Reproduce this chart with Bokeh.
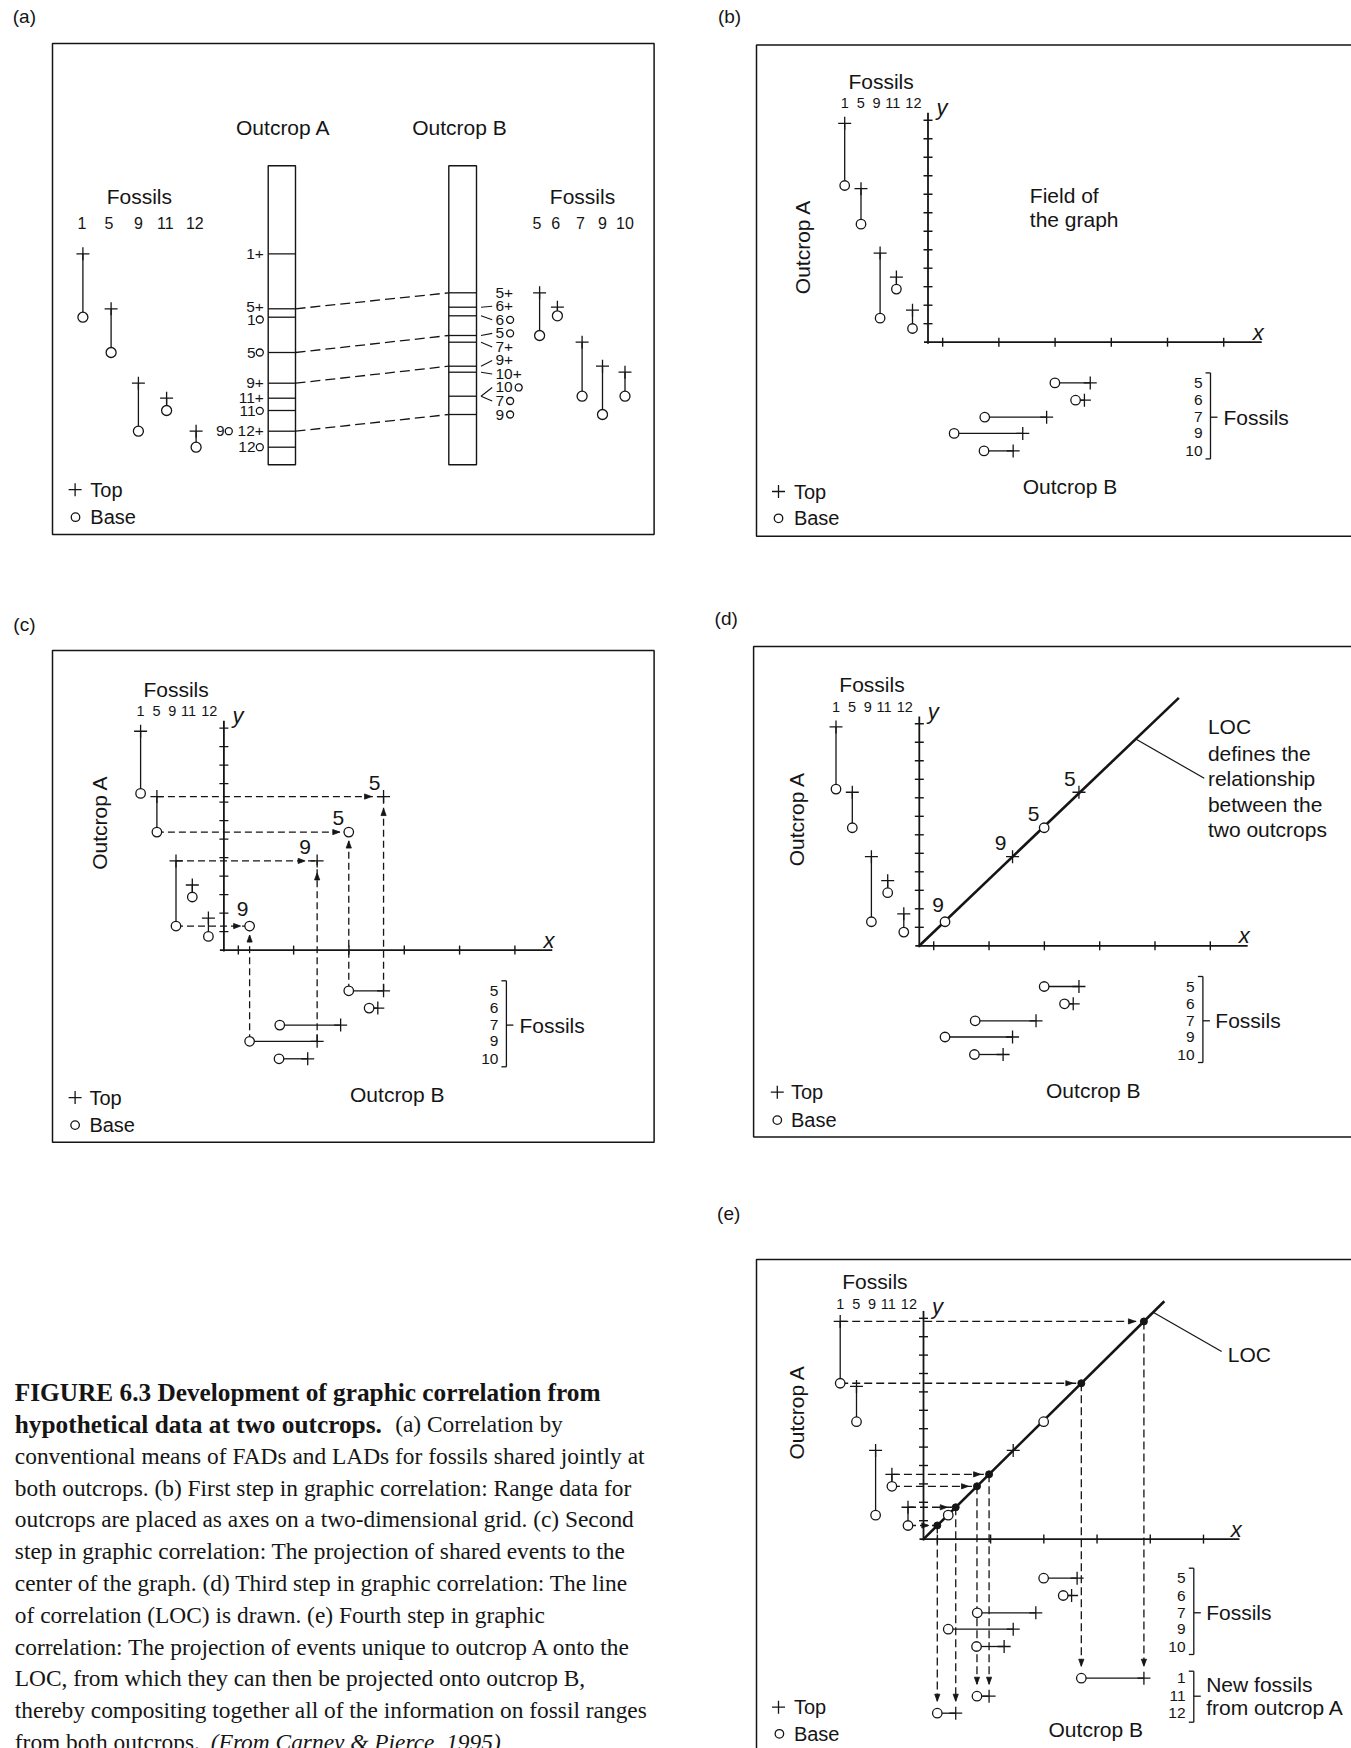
import math
from bokeh.plotting import figure
from bokeh.layouts import column, row
from bokeh.models import Range1d
from bokeh.core.properties import value
from bokeh.embed import file_html
from bokeh.resources import INLINE

SANS = "Liberation Sans"
SERIF = "Liberation Serif"
INK = "#151515"

# ---------------------------------------------------------------- data
# Outcrop A ranges (vertical axis of the graphs), metres above datum
a_fossils = ["1", "5", "9", "11", "12"]
a_top = [11.83, 8.30, 4.82, 3.52, 1.73]
a_base = [8.47, 6.38, 1.30, 2.87, 0.74]

# Outcrop B ranges (horizontal axis of the graphs), metres above datum
b_fossils = ["5", "6", "7", "9", "10"]
b_top = [8.63, 8.32, 6.31, 5.04, 4.53]
b_base = [6.75, 7.85, 3.02, 1.39, 2.98]

# events recorded at both outcrops
shared_events = [("5", "top"), ("5", "base"), ("9", "top"), ("9", "base")]
# fossils known only from outcrop A, carried to outcrop B through the LOC
new_fossils = ["1", "11", "12"]

# levels read along the two measured sections of panel (a)
col_a_top = [21.09, 15.59, 8.15, 6.65, 3.35]
col_a_base = [14.75, 11.22, 3.35, 5.42, 1.75]
col_b_top = [17.19, 15.75, 12.25, 9.85, 9.25]
col_b_base = [12.92, 14.89, 6.85, 5.02, 6.85]
col_height = 29.9

y_ticks = list(range(1, 13))
x_ticks = [0.78, 3.77, 6.76, 9.75, 12.74, 15.73]

caption = [
    [(14.3, "FIGURE 6.3  Development of graphic correlation from", "bold")],
    [(14.3, "hypothetical data at two outcrops.", "bold"), (394.7, "(a) Correlation by", "normal")],
    [(14.3, "conventional means of FADs and LADs for fossils shared jointly at", "normal")],
    [(14.3, "both outcrops. (b) First step in graphic correlation: Range data for", "normal")],
    [(14.3, "outcrops are placed as axes on a two-dimensional grid. (c) Second", "normal")],
    [(14.3, "step in graphic correlation: The projection of shared events to the", "normal")],
    [(14.3, "center of the graph. (d) Third step in graphic correlation: The line", "normal")],
    [(14.3, "of correlation (LOC) is drawn. (e) Fourth step in graphic", "normal")],
    [(14.3, "correlation: The projection of events unique to outcrop A onto the", "normal")],
    [(14.3, "LOC, from which they can then be projected onto outcrop B,", "normal")],
    [(14.3, "thereby compositing together all of the information on fossil ranges", "normal")],
    [(14.3, "from both outcrops.", "normal"), (210.3, "(From Carney & Pierce, 1995)", "italic")],
]


def pick(fossils, tops, bases, f, kind):
    i = fossils.index(f)
    return tops[i] if kind == "top" else bases[i]


shared_pts = []
for f, k in shared_events:
    shared_pts.append((f, k, a_fossils.index(f), b_fossils.index(f),
                       pick(b_fossils, b_top, b_base, f, k),
                       pick(a_fossils, a_top, a_base, f, k)))

# line of correlation: least-squares line through the origin
loc_slope = (sum(p[4] * p[5] for p in shared_pts) /
             sum(p[4] * p[4] for p in shared_pts))


# ------------------------------------------------------------- helpers
class Panel:
    """One figure; data units map to screen pixels with a fixed scale."""

    def __init__(self, left, top, w, h, ox, oy, sx, sy):
        self.ox, self.oy, self.sx, self.sy = ox, oy, sx, sy
        self.f = figure(
            width=w, height=h,
            x_range=Range1d((left - ox) / sx, (left + w - ox) / sx),
            y_range=Range1d((oy - top - h) / sy, (oy - top) / sy),
            x_axis_type=None, y_axis_type=None, tools="",
            output_backend="svg", toolbar_location=None,
            min_border=0, min_border_left=0, min_border_right=0,
            min_border_top=0, min_border_bottom=0,
            outline_line_color=None,
            background_fill_color="white", border_fill_color="white",
        )

    def X(self, px):
        return (px - self.ox) / self.sx

    def Y(self, py):
        return (self.oy - py) / self.sy

    def ddx(self, d):
        return d / self.sx

    def ddy(self, d):
        return d / self.sy


def txt(P, x, y, s, size=21, align="left", base="middle", font=SANS,
        style="normal", angle=0.0):
    P.f.text(x=[x], y=[y], text=[s], text_font=value(font),
             text_font_size=f"{size}px", text_align=align,
             text_baseline=base, text_font_style=style, angle=angle,
             text_color=INK)


def ptxt(P, px, py, s, **kw):
    txt(P, P.X(px), P.Y(py), s, **kw)


def seg(P, x0, y0, x1, y1, w=1.3, dash="solid"):
    P.f.segment(x0=x0, y0=y0, x1=x1, y1=y1, line_color=INK,
                line_width=w, line_dash=dash)


def box(P, l, t, r, b):
    P.f.quad(left=[P.X(l)], right=[P.X(r)], top=[P.Y(t)], bottom=[P.Y(b)],
             fill_color=None, line_color=INK, line_width=1.5)


def crosses(P, xs, ys, size=13):
    P.f.scatter(x=xs, y=ys, marker="cross", size=size, line_color=INK,
                line_width=1.3)


def rings(P, xs, ys, size=9.5):
    P.f.scatter(x=xs, y=ys, marker="circle", size=size, fill_color="white",
                line_color=INK, line_width=1.3)


def dots(P, xs, ys, size=7):
    P.f.scatter(x=xs, y=ys, marker="circle", size=size, fill_color=INK,
                line_color=INK, line_width=1)


def heads(P, tips, L=7.0, H=2.6):
    """Filled arrowheads; each tip is (x, y, ux, uy) with (ux, uy) the
    pointing direction in screen pixels (uy > 0 is up)."""
    xs, ys = [], []
    for tx, ty, ux, uy in tips:
        bx, by = -ux * L, -uy * L
        qx, qy = -uy * H, ux * H
        xs.append([tx, tx + P.ddx(bx + qx), tx + P.ddx(bx - qx)])
        ys.append([ty, ty + P.ddy(by + qy), ty + P.ddy(by - qy)])
    P.f.patches(xs=xs, ys=ys, fill_color=INK, line_color=INK, line_width=0.8)


def legend(P, spec):
    px1, py1, px2, py2, tx = spec
    crosses(P, [P.X(px1)], [P.Y(py1)], size=13)
    rings(P, [P.X(px2)], [P.Y(py2)], size=8.5)
    ptxt(P, tx, py1, "Top", size=20)
    ptxt(P, tx, py2, "Base", size=20)


def bracket(P, rows, labels, offs, lines, line_dy, pads=(10, 8)):
    num_off, br_off, txt_off = offs
    xb = P.ddx(br_off)
    for lab, y in zip(labels, rows):
        txt(P, P.ddx(num_off), y, lab, size=15.5, align="right")
    y0 = rows[0] + P.ddy(pads[0])
    y1 = rows[-1] - P.ddy(pads[1])
    ym = rows[len(rows) // 2]
    seg(P, [xb, xb - P.ddx(5), xb - P.ddx(5), xb],
        [y0, y0, y1, ym],
        [xb, xb, xb, xb + P.ddx(7)],
        [y1, y0, y1, ym], w=1.3)
    for s, d in zip(lines, line_dy):
        txt(P, P.ddx(txt_off), ym - P.ddy(d), s, size=21)


TRACK_PX = [-83.3, -67.0, -47.9, -31.6, -15.5]
NUM_PX = [-83.3, -67.3, -51.5, -35.3, -14.6]
ROWS = [40.7, 58.0, 75.0, 91.2, 108.7]
ROWS_E = [39.1, 56.4, 73.7, 90.1, 107.4]
NEW_ROWS_E = [139.1, 157.1, 174.1]
LAB_OFF = [(-9, 13.5), (-10.5, 14), (-12, 14), (-7, 17)]


def graph_frame(P, lay):
    box(P, *lay["box"])
    tx, ty, tag = lay["tag"]
    ptxt(P, tx, ty, tag, size=19, align="center")
    seg(P, [0.0], [P.ddy(-1.5)], [0.0], [12.4], w=1.8)
    seg(P, [P.ddx(-4)], [0.0], [17.75], [0.0], w=1.8)
    n = len(y_ticks)
    seg(P, [P.ddx(-4.5)] * n, y_ticks, [P.ddx(4.5)] * n, y_ticks, w=1.4)
    m = len(x_ticks)
    seg(P, x_ticks, [P.ddy(-4.5)] * m, x_ticks, [P.ddy(4.5)] * m, w=1.4)
    txt(P, 17.57, P.ddy(10), "x", size=22, align="center", style="italic")
    txt(P, P.ddx(14), 12.66, "y", size=22, align="center", style="italic")
    ptxt(P, *lay["fossils"], "Fossils", size=21, align="center")
    for f, off in zip(a_fossils, NUM_PX):
        txt(P, P.ddx(off), P.Y(lay["num_y"]), f, size=14.5, align="center")
    ptxt(P, *lay["outA"], "Outcrop A", size=21, align="center", angle=math.pi / 2)
    ptxt(P, *lay["outB"], "Outcrop B", size=21, align="center")
    legend(P, lay["legend"])
    rows = [-P.ddy(r) for r in lay["rows"]]
    bracket(P, rows, b_fossils, lay["brk"], ["Fossils"], [0])
    xa = [P.ddx(t) for t in TRACK_PX]
    seg(P, xa, a_top, xa, a_base)
    seg(P, b_base, rows, b_top, rows)
    return xa, rows


def graph_marks(P, xa, rows):
    crosses(P, xa, a_top)
    rings(P, xa, a_base)
    crosses(P, b_top, rows)
    rings(P, b_base, rows)


def shared_labels(P):
    for (f, k, ia, ib, xb, ya), (dx, up) in zip(shared_pts, LAB_OFF):
        txt(P, xb + P.ddx(dx), ya + P.ddy(up), f, size=21, align="center")


def shared_marks(P, skip=()):
    for f, k, ia, ib, xb, ya in shared_pts:
        if (f, k) in skip:
            continue
        if k == "top":
            crosses(P, [xb], [ya])
        else:
            rings(P, [xb], [ya])


# ------------------------------------------------------- panel (a)
A = Panel(0, 0, 676, 570, 0.0, 464.2, 1.0, 10.0)
box(A, 52, 42.9, 653.6, 533.9)
ptxt(A, 23.9, 16.1, "(a)", size=19, align="center")
ptxt(A, 282.8, 126.8, "Outcrop A", size=21, align="center")
ptxt(A, 458.9, 126.8, "Outcrop B", size=21, align="center")
ptxt(A, 138.8, 195.7, "Fossils", size=21, align="center")
ptxt(A, 582.0, 195.7, "Fossils", size=21, align="center")

COL_A = (267.7, 295.0)
COL_B = (448.3, 476.0)
A.f.quad(left=[COL_A[0], COL_B[0]], right=[COL_A[1], COL_B[1]],
         bottom=[0, 0], top=[col_height, col_height],
         fill_color=None, line_color=INK, line_width=1.4)
lev_a = sorted(set(col_a_top + col_a_base))
seg(A, [COL_A[0]] * len(lev_a), lev_a, [COL_A[1]] * len(lev_a), lev_a)
lev_b = sorted(set(col_b_top + col_b_base))
seg(A, [COL_B[0]] * len(lev_b), lev_b, [COL_B[1]] * len(lev_b), lev_b)

# correlation of the shared events between the two sections
for f, k in shared_events:
    la = pick(a_fossils, col_a_top, col_a_base, f, k)
    lb = pick(b_fossils, col_b_top, col_b_base, f, k)
    seg(A, [COL_A[1]], [la], [COL_B[0]], [lb], dash="10 5")

# labels beside section A
ev_a = sorted([(lv, f, "+") for f, lv in zip(a_fossils, col_a_top)] +
              [(lv, f, "o") for f, lv in zip(a_fossils, col_a_base)],
              key=lambda e: (-e[0], -int(e[1])))
slots = []
for lv, f, k in ev_a:
    shift = sum(1 for s in slots if abs(s[0] - lv) < 0.05)
    slots.append([lv, f, k, shift, lv])
main = [s for s in slots if s[3] == 0]
for s1, s2 in zip(main, main[1:]):
    gap = s1[4] - s2[4]
    if gap < 1.3:
        d = (1.3 - gap) / 2
        s1[4] += d
        s2[4] -= d
for lv, f, k, shift, ly in slots:
    right = 263.3 - 31.0 * shift
    if k == "+":
        txt(A, right, ly, f + "+", size=15.5, align="right")
    else:
        txt(A, right - 8.3, ly, f, size=15.5, align="right")
        rings(A, [right - 4.0], [ly], size=7)

# labels beside section B, spread evenly with short leaders
ev_b = sorted([(lv, f, "+") for f, lv in zip(b_fossils, col_b_top)] +
              [(lv, f, "o") for f, lv in zip(b_fossils, col_b_base)],
              key=lambda e: (-e[0], -int(e[1])))
nb = len(ev_b)
for i, (lv, f, k) in enumerate(ev_b):
    ly = ev_b[0][0] + (ev_b[-1][0] - ev_b[0][0]) * i / (nb - 1)
    if abs(ly - lv) > 0.05:
        seg(A, [480.5], [lv], [491.7], [ly], w=1.1)
    if k == "+":
        txt(A, 495.0, ly, f + "+", size=15.5)
    else:
        txt(A, 495.0, ly, f, size=15.5)
        rings(A, [495.0 + 8.6 * len(f) + 6.0], [ly], size=7)

# the range charts flanking the sections
TR_AL = [82.4, 110.6, 137.9, 166.1, 195.6]
NUM_AL = [81.5, 108.4, 137.9, 164.8, 194.3]
TR_AR = [539.1, 556.9, 581.6, 602.0, 624.5]
NUM_AR = [536.5, 555.1, 579.9, 602.0, 624.5]
seg(A, TR_AL, col_a_top, TR_AL, col_a_base)
seg(A, TR_AR, col_b_top, TR_AR, col_b_base)
crosses(A, TR_AL, col_a_top)
rings(A, TR_AL, col_a_base, size=10)
crosses(A, TR_AR, col_b_top)
rings(A, TR_AR, col_b_base, size=10)
for f, x in zip(a_fossils, NUM_AL):
    txt(A, x, A.Y(222.5), f, size=16, align="center")
for f, x in zip(b_fossils, NUM_AR):
    txt(A, x, A.Y(222.5), f, size=16, align="center")
legend(A, (74.6, 489.2, 75.0, 516.7, 89.8))

# ------------------------------------------------------- panel (b)
B = Panel(676, 0, 675, 570, 927.5, 341.7, 18.8, 18.5)
lay_b = dict(tag=(729, 16.1, "(b)"), box=(756, 44.6, 1400, 535.7),
             fossils=(880.6, 81.4), num_y=102.8, outA=(801.7, 246.4),
             outB=(1069.5, 485.7), legend=(778, 491, 778, 517.8, 793.4),
             rows=ROWS, brk=(274.5, 282.5, 295.5))
xa_b, rows_b = graph_frame(B, lay_b)
ptxt(B, 1029.3, 194.6, "Field of", size=21)
ptxt(B, 1029.3, 218.5, "the graph", size=21)
graph_marks(B, xa_b, rows_b)

# ------------------------------------------------------- panel (c)
C = Panel(0, 570, 676, 580, 223.4, 949.6, 18.5, 18.5)
lay_c = dict(tag=(23.9, 623.9, "(c)"), box=(52, 650, 653.6, 1141.7),
             fossils=(175.6, 689.3), num_y=710, outA=(98.9, 822.1),
             outB=(396.8, 1093.5), legend=(74.6, 1097.1, 74.6, 1124.6, 88.9),
             rows=ROWS, brk=(274.5, 282.5, 295.5))
xa_c, rows_c = graph_frame(C, lay_c)
tips = []
for f, k, ia, ib, xb, ya in shared_pts:
    seg(C, [xa_c[ia]], [ya], [xb], [ya], dash="7 4")
    seg(C, [xb], [rows_c[ib]], [xb], [ya], dash="7 4")
    g = 12 if k == "top" else 9
    tips.append((xb - C.ddx(g), ya, 1, 0))
    tips.append((xb, ya - C.ddy(g), 0, 1))
heads(C, tips)
shared_labels(C)
graph_marks(C, xa_c, rows_c)
shared_marks(C)

# ------------------------------------------------------- panel (d)
D = Panel(676, 570, 675, 580, 918.8, 945.3, 18.5, 18.5)
lay_d = dict(tag=(725.7, 617.9, "(d)"), box=(753.1, 646.1, 1400, 1136.4),
             fossils=(871.5, 683.6), num_y=706, outA=(795.5, 818.5),
             outB=(1092.8, 1089.9), legend=(776.8, 1091.7, 776.8, 1119.6, 790.5),
             rows=ROWS, brk=(275.3, 283.6, 296.0))
xa_d, rows_d = graph_frame(D, lay_d)
loc_end_d = 14.03
seg(D, [0.0], [0.0], [loc_end_d], [loc_slope * loc_end_d], w=2.6)
lx = 11.7
seg(D, [lx], [loc_slope * lx], [lx + D.ddx(68.5)], [loc_slope * lx - D.ddy(39.3)], w=1.2)
for s, py in zip(["LOC", "defines the", "relationship", "between the", "two outcrops"],
                 [725.7, 752.5, 777.5, 803.5, 828.5]):
    ptxt(D, 1207.4, py, s, size=21)
shared_labels(D)
graph_marks(D, xa_d, rows_d)
shared_marks(D)

# ------------------------------------------------------- panel (e)
E = Panel(676, 1150, 675, 598, 923.0, 1538.6, 17.8, 18.4)
lay_e = dict(tag=(728.2, 1212.6, "(e)"), box=(756, 1259, 1400, 1800),
             fossils=(874.4, 1281.4), num_y=1303.1, outA=(796.3, 1411.8),
             outB=(1095.3, 1728.7), legend=(778, 1706.7, 778.9, 1733.3, 793.4),
             rows=ROWS_E, brk=(262.0, 270.3, 282.7))
xa_e, rows_e = graph_frame(E, lay_e)
loc_end_e = 13.53
seg(E, [0.0], [0.0], [loc_end_e], [loc_slope * loc_end_e], w=2.6)
lx = 12.9
seg(E, [lx], [loc_slope * lx], [lx + E.ddx(68.5)], [loc_slope * lx - E.ddy(39.1)], w=1.2)
ptxt(E, 1227.3, 1353.9, "LOC", size=21)

new_rows = [-E.ddy(r) for r in NEW_ROWS_E]
bracket(E, new_rows, new_fossils, (262.0, 270.3, 282.7),
        ["New fossils", "from outcrop A"], [-12.2, 11.3], pads=(7, 9))
tips = []
dot_x, dot_y = [], []
row_top_x, row_base_x = [], []
for f, ry in zip(new_fossils, new_rows):
    ia = a_fossils.index(f)
    ends = {}
    for k, ya in (("top", a_top[ia]), ("base", a_base[ia])):
        xl = ya / loc_slope
        ends[k] = xl
        seg(E, [xa_e[ia]], [ya], [xl], [ya], dash="8 4")
        tips.append((xl - E.ddx(8.5), ya, 1, 0))
        tip_y = ry + E.ddy(12)
        seg(E, [xl], [ya], [xl], [tip_y], dash="8 4")
        tips.append((xl, tip_y, 0, -1))
        dot_x.append(xl)
        dot_y.append(ya)
    row_top_x.append(ends["top"])
    row_base_x.append(ends["base"])
seg(E, row_base_x, new_rows, row_top_x, new_rows)
heads(E, tips)
graph_marks(E, xa_e, rows_e)
crosses(E, row_top_x, new_rows)
rings(E, row_base_x, new_rows)
shared_marks(E, skip=(("5", "top"),))
dots(E, dot_x, dot_y)

# ------------------------------------------------------- caption
CAP = Panel(0, 1150, 676, 598, 0.0, 0.0, 1.0, -1.0)
for i, parts in enumerate(caption):
    y = 1391.7 + 31.8 * i
    for x, s, style in parts:
        size = 25.3 if style == "bold" else 23.4
        ptxt(CAP, x, y, s, size=size, font=SERIF, style=style)

layout = column(row(A.f, B.f), row(C.f, D.f), row(CAP.f, E.f))
open("out.html", "w").write(file_html(layout, INLINE))
